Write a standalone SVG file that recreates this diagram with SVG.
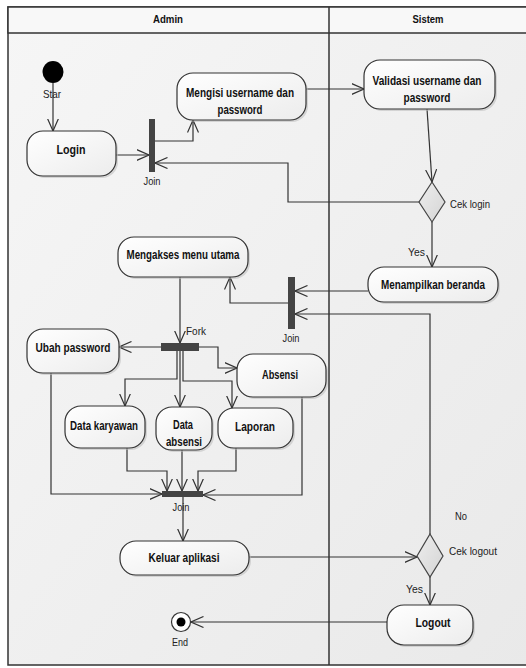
<svg xmlns="http://www.w3.org/2000/svg" width="526" height="668" viewBox="0 0 526 668">
<defs>
<linearGradient id="bg" x1="0" y1="0" x2="1" y2="1"><stop offset="0" stop-color="#f6f6f6"/><stop offset="1" stop-color="#e9e9e9"/></linearGradient>
<linearGradient id="nodeFill" x1="0" y1="0" x2="1" y2="1"><stop offset="0" stop-color="#ffffff"/><stop offset="1" stop-color="#ececec"/></linearGradient>
<linearGradient id="diaFill" x1="0" y1="0" x2="1" y2="1"><stop offset="0" stop-color="#eeeeee"/><stop offset="1" stop-color="#d4d4d4"/></linearGradient>
<marker id="arr" viewBox="0 0 13 12" refX="12.5" refY="6" markerWidth="13" markerHeight="12" markerUnits="userSpaceOnUse" orient="auto">
<path d="M0,0.5 L12.5,6 L0,11.5" fill="none" stroke="#333" stroke-width="1.2"/>
</marker>
</defs>
<style>
.lane{fill:url(#bg);stroke:#333;stroke-width:1.5}
.hdr{fill:#f8f8f8;stroke:#333;stroke-width:1.5}
.act{fill:url(#nodeFill);stroke:#333;stroke-width:1.2}
.shadow{fill:#bbb;opacity:0.55}
.dia{fill:url(#diaFill);stroke:#444;stroke-width:1.2}
.bar{fill:#444}
.t{font-family:"Liberation Sans",Arial,sans-serif;font-size:12.5px;font-weight:bold;fill:#111;text-anchor:middle}
.l{font-family:"Liberation Sans",Arial,sans-serif;font-size:11.5px;fill:#222}
.h{font-family:"Liberation Sans",Arial,sans-serif;font-size:11.5px;font-weight:bold;fill:#111;text-anchor:middle}
.c{fill:none;stroke:#333;stroke-width:1.2;marker-end:url(#arr)}
</style>
<rect x="0" y="0" width="526" height="668" fill="#ffffff"/>
<g id="lanes">
<rect class="lane" x="8" y="7" width="530" height="658"/>
<rect class="hdr" x="8" y="7" width="530" height="26"/>
<line x1="329" y1="7" x2="329" y2="665" stroke="#333" stroke-width="1.5"/>
<text class="h" x="168" y="23" textLength="30" lengthAdjust="spacingAndGlyphs">Admin</text>
<text class="h" x="428" y="23" textLength="31" lengthAdjust="spacingAndGlyphs">Sistem</text>
</g>
<g id="connectors">
<path class="c" d="M53,83 L53,131"/>
<path class="c" d="M116,155 L149,155"/>
<path class="c" d="M155,141 L193,141 L193,120"/>
<path class="c" d="M306,89 L364,89"/>
<path class="c" d="M427,109 L432,182"/>
<path class="c" d="M420,202 L288,202 L288,163 L155,163"/>
<path class="c" d="M432,222 L432,267"/>
<path class="c" d="M368,291 L295,291"/>
<path class="c" d="M288,303 L230,303 L230,277"/>
<path class="c" d="M430,534 L430,314 L295,314"/>
<path class="c" d="M180,277 L180,343"/>
<path class="c" d="M161,347 L119,347"/>
<path class="c" d="M199,347 L218,347 L218,368 L237,368"/>
<path class="c" d="M177,351 L177,379 L125,379 L125,406"/>
<path class="c" d="M180,351 L180,407"/>
<path class="c" d="M183,351 L183,381 L232,381 L232,408"/>
<path class="c" d="M51,373 L51,494 L162,494"/>
<path class="c" d="M127,448 L127,471 L167,471 L167,491"/>
<path class="c" d="M182,450 L182,491"/>
<path class="c" d="M236,448 L236,471 L198,471 L198,491"/>
<path class="c" d="M302,397 L302,495 L203,495"/>
<path class="c" d="M183,497 L183,541"/>
<path class="c" d="M249,557 L417,557"/>
<path class="c" d="M430,577 L430,605"/>
<path class="c" d="M387,622 L191,622"/>
</g>
<g id="start">
<ellipse cx="53" cy="72" rx="10.5" ry="11" fill="#000"/>
<text class="l" x="52" y="98" text-anchor="middle" textLength="18" lengthAdjust="spacingAndGlyphs">Star</text>
</g>
<g id="login">
<rect class="shadow" x="29" y="133" width="89" height="45" rx="16"/>
<rect class="act" x="27" y="131" width="89" height="45" rx="16"/>
<text class="t" x="71" y="154" textLength="29" lengthAdjust="spacingAndGlyphs">Login</text>
</g>
<g id="join1">
<rect class="bar" x="149" y="119" width="6" height="53"/>
<text class="l" x="152" y="185" text-anchor="middle" textLength="17" lengthAdjust="spacingAndGlyphs">Join</text>
</g>
<g id="mengisi">
<rect class="shadow" x="179" y="75" width="129" height="47" rx="16"/>
<rect class="act" x="177" y="73" width="129" height="47" rx="16"/>
<text class="t" x="240" y="97" textLength="108" lengthAdjust="spacingAndGlyphs">Mengisi username dan</text>
<text class="t" x="240" y="114" textLength="45" lengthAdjust="spacingAndGlyphs">password</text>
</g>
<g id="validasi">
<rect class="shadow" x="366" y="62" width="131" height="49" rx="16"/>
<rect class="act" x="364" y="60" width="131" height="49" rx="16"/>
<text class="t" x="427" y="85" textLength="109" lengthAdjust="spacingAndGlyphs">Validasi username dan</text>
<text class="t" x="427" y="102" textLength="47" lengthAdjust="spacingAndGlyphs">password</text>
</g>
<g id="ceklogin">
<path class="dia" d="M432,182 L445,202 L432,222 L419,202 Z"/>
<text class="l" x="450" y="208" textLength="40" lengthAdjust="spacingAndGlyphs">Cek login</text>
</g>
<g id="menampilkan">
<text class="l" x="408" y="256" textLength="17" lengthAdjust="spacingAndGlyphs">Yes</text>
<rect class="shadow" x="370" y="269" width="130" height="35" rx="16"/>
<rect class="act" x="368" y="267" width="130" height="35" rx="16"/>
<text class="t" x="433" y="289" textLength="104" lengthAdjust="spacingAndGlyphs">Menampilkan beranda</text>
</g>
<g id="join2">
<rect class="bar" x="288" y="277" width="7" height="52"/>
<text class="l" x="291" y="342" text-anchor="middle" textLength="17" lengthAdjust="spacingAndGlyphs">Join</text>
</g>
<g id="mengakses">
<rect class="shadow" x="120" y="239" width="130" height="40" rx="16"/>
<rect class="act" x="118" y="237" width="130" height="40" rx="16"/>
<text class="t" x="183" y="259" textLength="113" lengthAdjust="spacingAndGlyphs">Mengakses menu utama</text>
</g>
<g id="fork">
<rect class="bar" x="161" y="343" width="38" height="8"/>
<text class="l" x="186" y="335" textLength="20" lengthAdjust="spacingAndGlyphs">Fork</text>
</g>
<g id="ubah">
<rect class="shadow" x="29" y="331" width="92" height="44" rx="16"/>
<rect class="act" x="27" y="329" width="92" height="44" rx="16"/>
<text class="t" x="73" y="352" textLength="75" lengthAdjust="spacingAndGlyphs">Ubah password</text>
</g>
<g id="absensi">
<rect class="shadow" x="239" y="356" width="89" height="43" rx="16"/>
<rect class="act" x="237" y="354" width="89" height="43" rx="16"/>
<text class="t" x="280" y="379" textLength="36" lengthAdjust="spacingAndGlyphs">Absensi</text>
</g>
<g id="datakaryawan">
<rect class="shadow" x="67" y="408" width="80" height="42" rx="16"/>
<rect class="act" x="65" y="406" width="80" height="42" rx="16"/>
<text class="t" x="104" y="430" textLength="68" lengthAdjust="spacingAndGlyphs">Data karyawan</text>
</g>
<g id="dataabsensi">
<rect class="shadow" x="158" y="409" width="56" height="43" rx="16"/>
<rect class="act" x="156" y="407" width="56" height="43" rx="16"/>
<text class="t" x="183" y="429" textLength="20" lengthAdjust="spacingAndGlyphs">Data</text>
<text class="t" x="184" y="446" textLength="36" lengthAdjust="spacingAndGlyphs">absensi</text>
</g>
<g id="laporan">
<rect class="shadow" x="220" y="410" width="75" height="40" rx="16"/>
<rect class="act" x="218" y="408" width="75" height="40" rx="16"/>
<text class="t" x="255" y="431" textLength="40" lengthAdjust="spacingAndGlyphs">Laporan</text>
</g>
<g id="join3">
<rect class="bar" x="162" y="491" width="41" height="6"/>
<text class="l" x="181" y="511" text-anchor="middle" textLength="17" lengthAdjust="spacingAndGlyphs">Join</text>
</g>
<g id="keluar">
<rect class="shadow" x="122" y="543" width="129" height="34" rx="16"/>
<rect class="act" x="120" y="541" width="129" height="34" rx="16"/>
<text class="t" x="184" y="562" textLength="71" lengthAdjust="spacingAndGlyphs">Keluar aplikasi</text>
</g>
<g id="ceklogout">
<path class="dia" d="M430,534 L443,556 L430,577 L417,556 Z"/>
<text class="l" x="449" y="555" textLength="48" lengthAdjust="spacingAndGlyphs">Cek logout</text>
<text class="l" x="455" y="520" textLength="12" lengthAdjust="spacingAndGlyphs">No</text>
<text class="l" x="406" y="593" textLength="17" lengthAdjust="spacingAndGlyphs">Yes</text>
</g>
<g id="logout">
<rect class="shadow" x="389" y="607" width="86" height="40" rx="17"/>
<rect class="act" x="387" y="605" width="86" height="40" rx="17"/>
<text class="t" x="433" y="627" textLength="35" lengthAdjust="spacingAndGlyphs">Logout</text>
</g>
<g id="end">
<circle cx="181" cy="622" r="9.5" fill="#fff" stroke="#333" stroke-width="1.2"/>
<circle cx="181" cy="622" r="4.5" fill="#000"/>
<text class="l" x="180" y="646" text-anchor="middle" textLength="16" lengthAdjust="spacingAndGlyphs">End</text>
</g>
</svg>
